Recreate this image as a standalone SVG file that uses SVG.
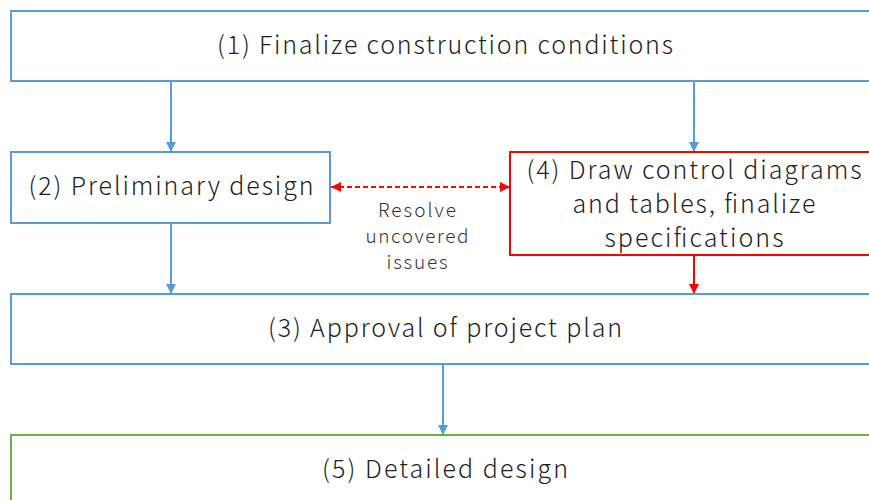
<svg xmlns="http://www.w3.org/2000/svg" width="869" height="500" viewBox="0 0 869 500">
<defs>
<style>
.box{fill:#fff;stroke-width:2}
.b{stroke:#5B9BD5}
.r{stroke:#FF0000}
.g{stroke:#70AD47}
.t{font-family:"Noto Sans CJK JP","Noto Sans",sans-serif;font-size:25px;font-weight:300;fill:#1e1e1e;text-anchor:middle}
.s{font-family:"Noto Sans CJK JP","Noto Sans",sans-serif;font-size:19px;font-weight:300;fill:#333;text-anchor:middle}
.cb{stroke:#5B9BD5;stroke-width:2;fill:none}
.cr{stroke:#FF0000;stroke-width:2;fill:none}
</style>
<marker id="ab" viewBox="0 0 10 10" refX="10" refY="5" markerWidth="5" markerHeight="5" orient="auto"><path d="M0,0L10,5L0,10z" fill="#5B9BD5"/></marker>
<marker id="ar" viewBox="0 0 10 10" refX="10" refY="5" markerWidth="5" markerHeight="5" orient="auto-start-reverse"><path d="M0,0L10,5L0,10z" fill="#FF0000"/></marker>
</defs>
<rect width="869" height="500" fill="#fff"/>
<g id="connectors">
<line class="cb" x1="171" y1="81" x2="171" y2="152" marker-end="url(#ab)"/>
<line class="cb" x1="694" y1="81" x2="694" y2="152" marker-end="url(#ab)"/>
<line class="cb" x1="171" y1="223" x2="171" y2="294" marker-end="url(#ab)"/>
<line class="cr" x1="694" y1="255" x2="694" y2="294" marker-end="url(#ar)"/>
<line class="cb" x1="443" y1="364" x2="443" y2="435" marker-end="url(#ab)"/>
<line class="cr" x1="331" y1="187" x2="510" y2="187" stroke-dasharray="5,3" marker-start="url(#ar)" marker-end="url(#ar)"/>
<text class="s" x="417" y="217" textLength="78" lengthAdjust="spacing">Resolve</text>
<text class="s" x="417" y="243" textLength="103" lengthAdjust="spacing">uncovered</text>
<text class="s" x="417" y="269" textLength="61" lengthAdjust="spacing">issues</text>
</g>
<g id="n1">
<rect class="box b" x="11" y="11" width="870" height="70"/>
<text class="t" x="445" y="54" textLength="456" lengthAdjust="spacing">(1) Finalize construction conditions</text>
</g>
<g id="n2">
<rect class="box b" x="11" y="152" width="319" height="71"/>
<text class="t" x="171" y="195" textLength="285" lengthAdjust="spacing">(2) Preliminary design</text>
</g>
<g id="n4">
<rect class="box r" x="510" y="152" width="370" height="103"/>
<text class="t" x="694" y="179" textLength="335" lengthAdjust="spacing">(4) Draw control diagrams</text>
<text class="t" x="694" y="213" textLength="243" lengthAdjust="spacing">and tables, finalize</text>
<text class="t" x="694" y="247" textLength="179" lengthAdjust="spacing">specifications</text>
</g>
<g id="n3">
<rect class="box b" x="11" y="294" width="870" height="70"/>
<text class="t" x="445" y="337" textLength="354" lengthAdjust="spacing">(3) Approval of project plan</text>
</g>
<g id="n5">
<rect class="box g" x="11" y="435" width="870" height="80"/>
<text class="t" x="445" y="478" textLength="246" lengthAdjust="spacing">(5) Detailed design</text>
</g>
</svg>
